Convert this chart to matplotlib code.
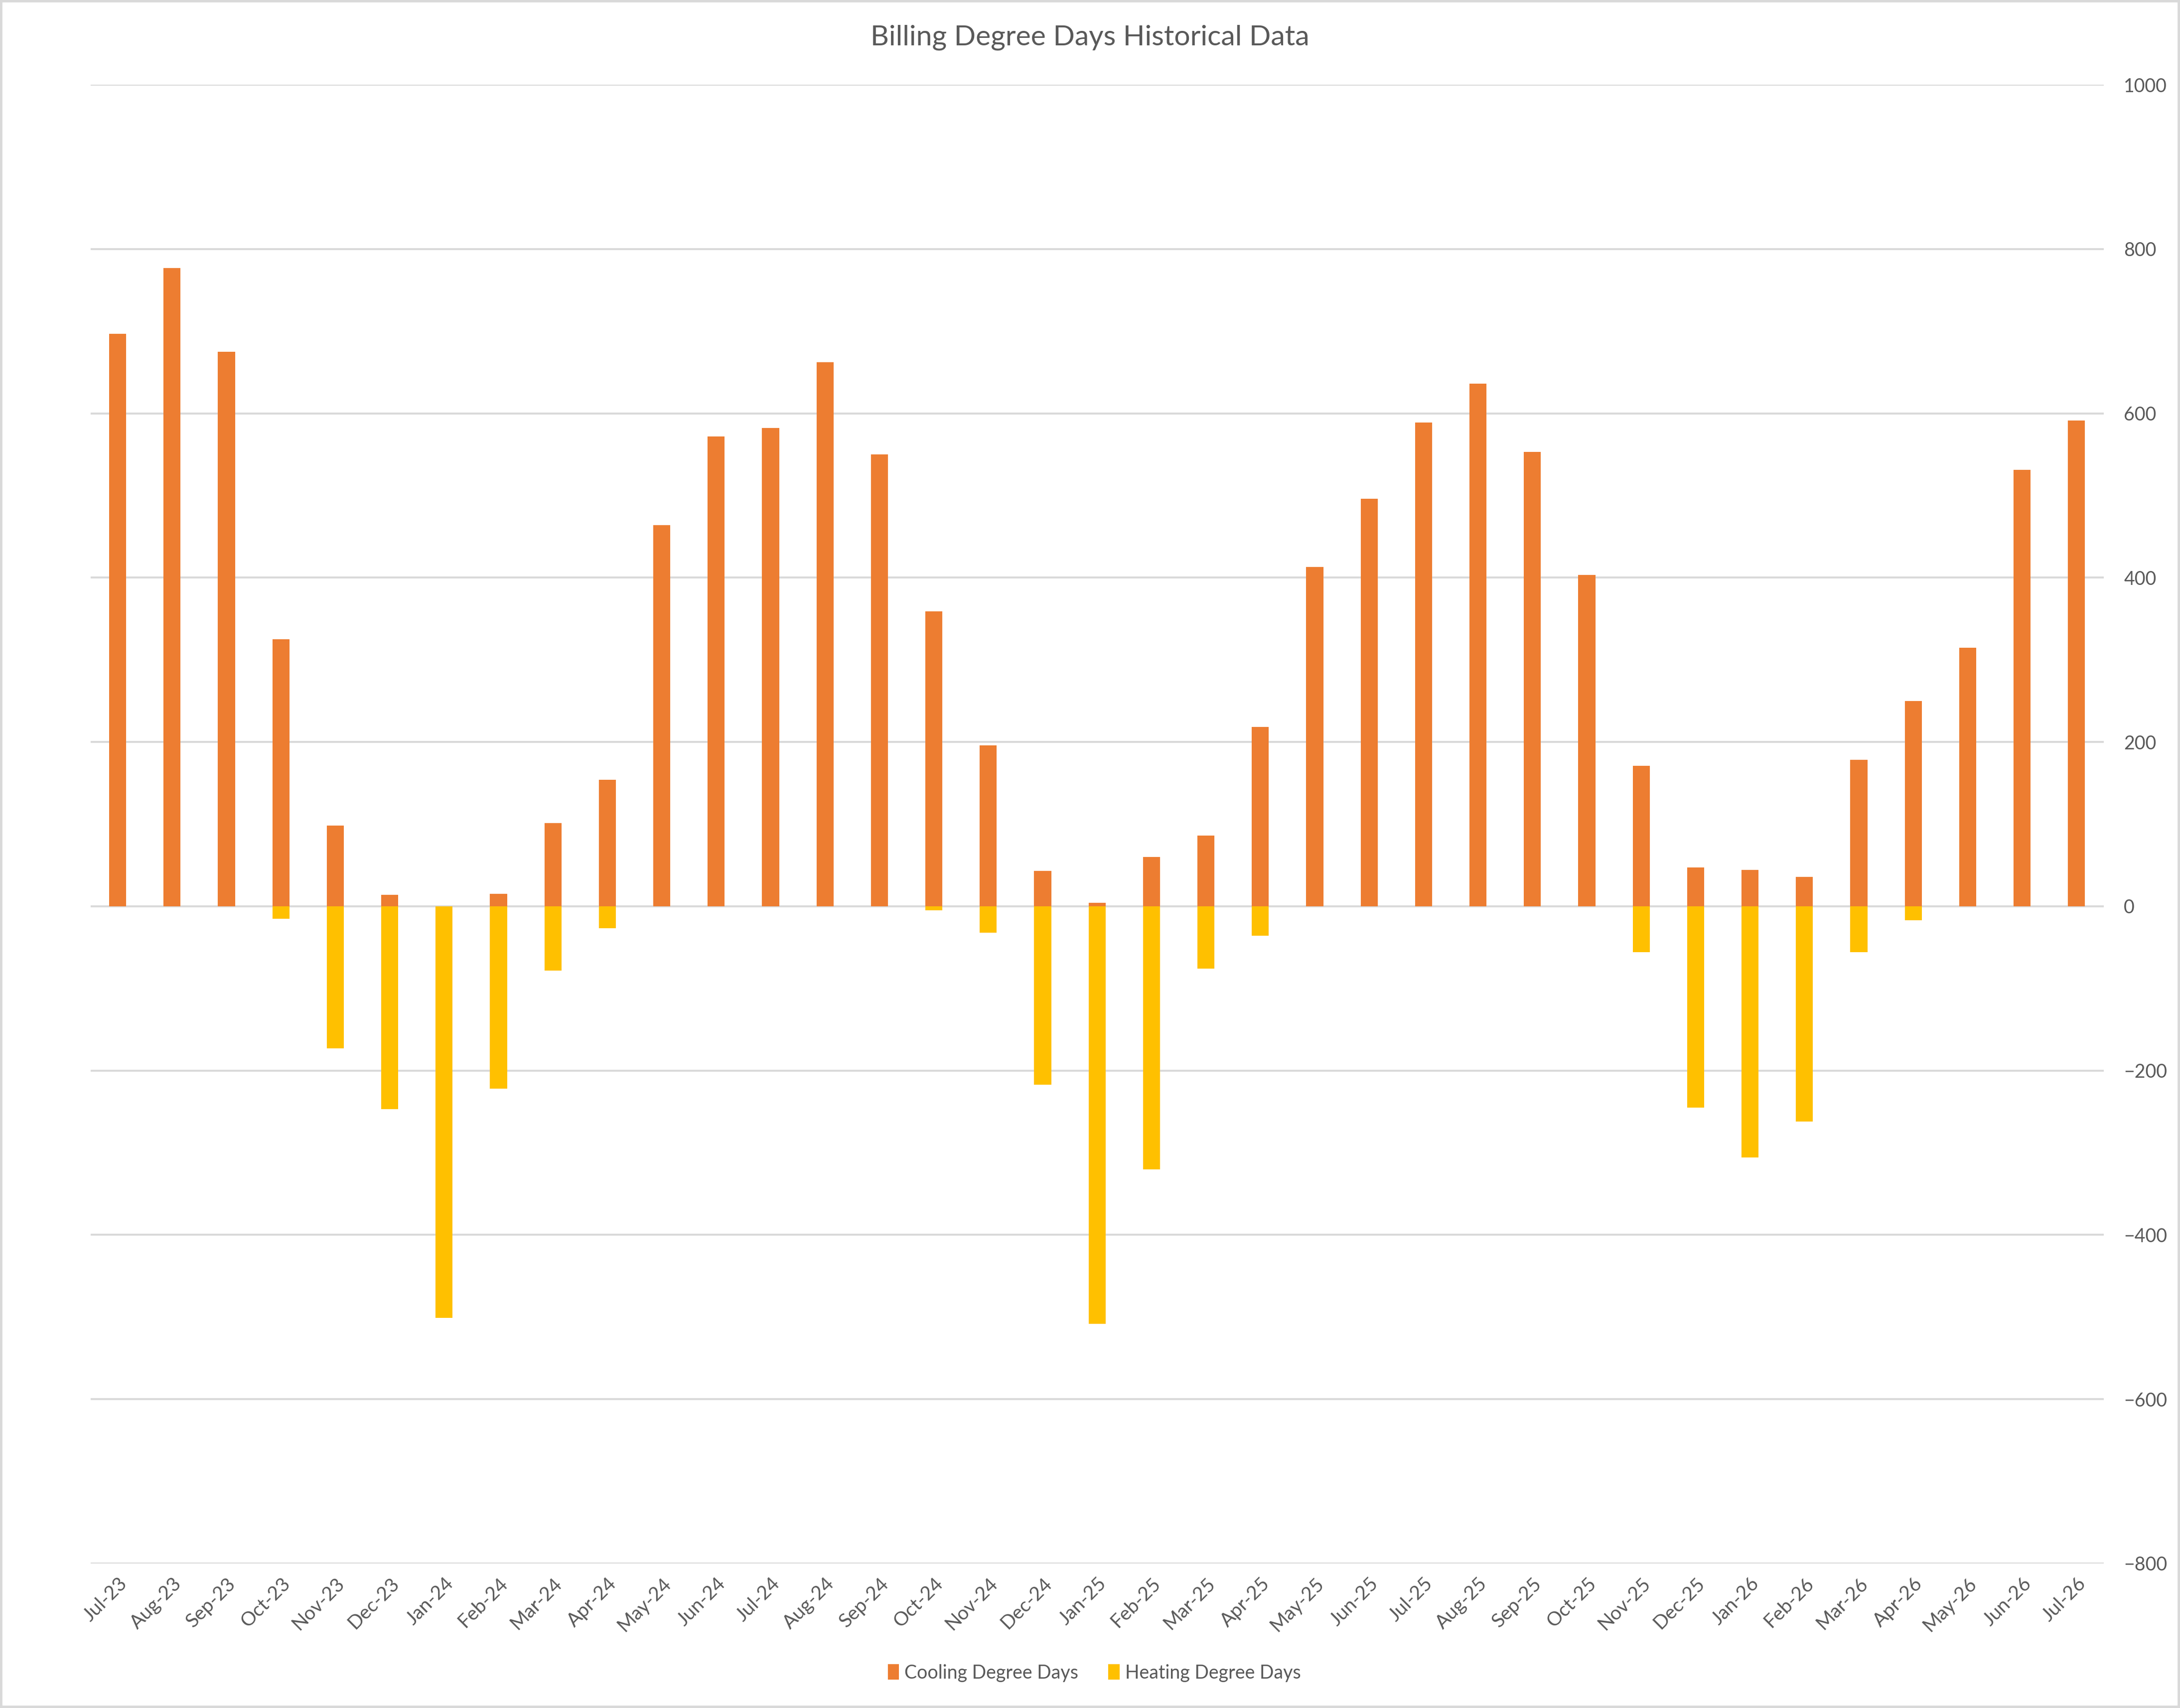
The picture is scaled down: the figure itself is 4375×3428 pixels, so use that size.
import numpy as np
import matplotlib
matplotlib.use("Agg")
import matplotlib.pyplot as plt
from matplotlib.patches import Rectangle

plt.rcParams['font.family'] = ['Lato', 'DejaVu Sans']

months = ['Jul-23', 'Aug-23', 'Sep-23', 'Oct-23', 'Nov-23', 'Dec-23',
          'Jan-24', 'Feb-24', 'Mar-24', 'Apr-24', 'May-24', 'Jun-24',
          'Jul-24', 'Aug-24', 'Sep-24', 'Oct-24', 'Nov-24', 'Dec-24',
          'Jan-25', 'Feb-25', 'Mar-25', 'Apr-25', 'May-25', 'Jun-25',
          'Jul-25', 'Aug-25', 'Sep-25', 'Oct-25', 'Nov-25', 'Dec-25',
          'Jan-26', 'Feb-26', 'Mar-26', 'Apr-26', 'May-26', 'Jun-26',
          'Jul-26']

cooling = [697, 777, 675, 325, 98, 14,
           0, 15, 101, 154, 464, 572,
           582, 662, 550, 359, 196, 43,
           4, 60, 86, 218, 413, 496,
           589, 636, 553, 403, 171, 47,
           44, 36, 178, 250, 315, 531,
           591]

heating = [0, 0, 0, -15, -173, -247,
           -501, -222, -78, -27, 0, 0,
           0, 0, 0, -5, -32, -217,
           -508, -320, -76, -36, 0, 0,
           0, 0, 0, 0, -56, -245,
           -306, -262, -56, -17, 0, 0,
           0]

text_col = '#595959'
grid_col = '#D9D9D9'

fig = plt.figure(figsize=(43.75, 34.28), dpi=100)
ax = fig.add_axes([0.0415, 0.0846, 0.9235, 0.8658])

x = np.arange(len(months))
w = 0.3125
ax.bar(x, cooling, width=w, color='#ED7D31', label='Cooling Degree Days', zorder=3)
ax.bar(x, heating, width=w, color='#FFC000', label='Heating Degree Days', zorder=3)

ax.set_xlim(-0.5, len(months) - 0.5)
ax.set_ylim(-800, 1000)
ax.set_yticks(np.arange(-800, 1001, 200))
ax.yaxis.tick_right()
ax.grid(axis='y', color=grid_col, linewidth=2.8, zorder=0)
for s in ax.spines.values():
    s.set_visible(False)

ax.tick_params(axis='y', length=0, pad=29, labelsize=27, labelcolor=text_col)
ax.tick_params(axis='x', length=0, pad=16, labelsize=28, labelcolor=text_col)
ax.set_xticks(x)
ax.set_xticklabels(months, rotation=45, ha='right', va='top', rotation_mode='anchor')

fig.text(0.5, 0.978, 'Billing Degree Days Historical Data', ha='center', va='center',
         fontsize=41, color=text_col)

fig.legend(loc='center', bbox_to_anchor=(0.502, 0.0205), ncol=2, frameon=False,
           fontsize=27, labelcolor=text_col, handlelength=0.6, handleheight=0.9,
           handletextpad=0.3, columnspacing=1.6)

fig.patches.append(Rectangle((0.0005, 0.0005), 0.999, 0.999, transform=fig.transFigure,
                             fill=False, edgecolor=grid_col, linewidth=4))

fig.savefig('out.png', dpi=100, facecolor='white')
